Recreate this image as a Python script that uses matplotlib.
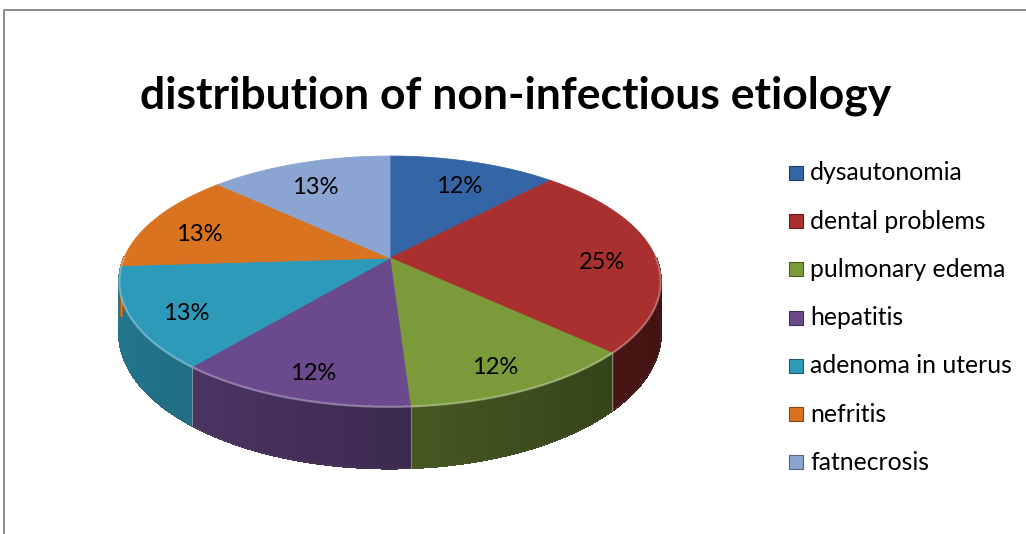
import numpy as np
import matplotlib
matplotlib.use("Agg")
import matplotlib.pyplot as plt
from matplotlib.patches import Polygon, Rectangle
from matplotlib.collections import PolyCollection
from matplotlib.colors import to_rgb

# ---- data ----
categories = ["dysautonomia", "dental problems", "pulmonary edema", "hepatitis",
              "adenoma in uterus", "nefritis", "fatnecrosis"]
shares = [12, 25, 12, 12, 13, 13, 13]
colors = ["#3466A7", "#A9302E", "#7B9B3B", "#6A4A8C", "#2C9AB8", "#D9731F", "#8BA4D1"]
title = "distribution of non-infectious etiology"

plt.rcParams["font.family"] = ["Lato", "DejaVu Sans"]

W, H = 1026, 534
fig = plt.figure(figsize=(W / 100, H / 100), dpi=100)
ax = fig.add_axes([0, 0, 1, 1])
ax.set_xlim(0, W)
ax.set_ylim(H, 0)
ax.axis("off")

# chart frame (left and top edges visible)
ax.plot([4, 4, W + 5], [H + 5, 10, 10], color="#8a8a8a", lw=1.4, zorder=0)

# ---- 3-D pie geometry (screen units) ----
CX, CY = 390, 258      # apex of the slices
R = 266                # radius at apex depth
K = 0.455              # vertical squash of the disc
P = 0.187              # perspective strength
DEPTH = 50             # thickness of the disc


def project(r, theta):
    u = r * np.cos(theta)
    v = r * np.sin(theta)
    s = 1.0 / (1.0 + P * v)
    return CX + R * u * s, CY - R * K * v * s, s


def shade(color, f):
    return tuple(np.clip(np.array(to_rgb(color)) * f, 0, 1))


total = float(sum(shares))
bounds = np.pi / 2 - 2 * np.pi * np.concatenate([[0], np.cumsum(shares)]) / total

# side walls, shaded by facing direction
for i, col in enumerate(colors):
    t0, t1 = bounds[i], bounds[i + 1]
    n = max(int(abs(t0 - t1) / np.radians(1.0)), 2)
    th = np.linspace(t0, t1, n + 1)
    quads, fcs = [], []
    for a, b in zip(th[:-1], th[1:]):
        m = 0.5 * (a + b)
        if np.sin(m) >= 0:
            continue
        xa, ya, sa = project(1.0, a)
        xb, yb, sb = project(1.0, b)
        quads.append([(xa, ya), (xb, yb), (xb, yb + DEPTH * sb), (xa, ya + DEPTH * sa)])
        fcs.append(shade(col, 0.58 - 0.2 * np.cos(m)))
    if quads:
        ax.add_collection(PolyCollection(quads, facecolors=fcs, edgecolors=fcs,
                                         linewidths=1.0, antialiased=False, zorder=1))

# outline of the lower rim, smoothed
th = np.linspace(np.pi, 2 * np.pi, 300)
x, y, s = project(1.0, th)
ax.plot(x, y + DEPTH * s, color="#555555", lw=0.6, alpha=0.35, zorder=1.2)

# light seams between side walls
for t in bounds[1:-1]:
    if np.sin(t) < 0:
        x, y, s = project(1.0, t)
        ax.plot([x, x], [y, y + DEPTH * s], color="#b0b0b0", lw=0.8, alpha=0.6, zorder=1.5)

# top faces
for i, col in enumerate(colors):
    t0, t1 = bounds[i], bounds[i + 1]
    th = np.linspace(t0, t1, 200)
    x, y, _ = project(1.0, th)
    pts = np.column_stack([np.r_[CX, x], np.r_[CY, y]])
    ax.add_patch(Polygon(pts, closed=True, facecolor=col, edgecolor=col, lw=0.6, zorder=2))

# soft highlight along the front rim
th = np.linspace(np.pi, 2 * np.pi, 300)
x, y, _ = project(1.0, th)
ax.plot(x, y, color="white", lw=1.6, alpha=0.3, zorder=3)

# percentage labels
for i, v in enumerate(shares):
    mid = 0.5 * (bounds[i] + bounds[i + 1])
    x, y, _ = project(0.8, mid)
    ax.text(x, y + 8, f"{v}%", fontsize=17, ha="center", va="center", color="black", zorder=4)

# title
ax.text(516, 108, title, fontsize=32, fontweight="bold", ha="center", va="baseline")

# legend
y0, pitch = 173, 48.2
for i, (lab, col) in enumerate(zip(categories, colors)):
    yy = y0 + i * pitch
    ax.add_patch(Rectangle((789, yy - 7), 14, 14, facecolor=col,
                           edgecolor=shade(col, 0.6), lw=0.8, zorder=4))
    ax.text(810, yy, lab, fontsize=17.8, ha="left", va="center", zorder=4)

fig.savefig("out.png", dpi=100)
